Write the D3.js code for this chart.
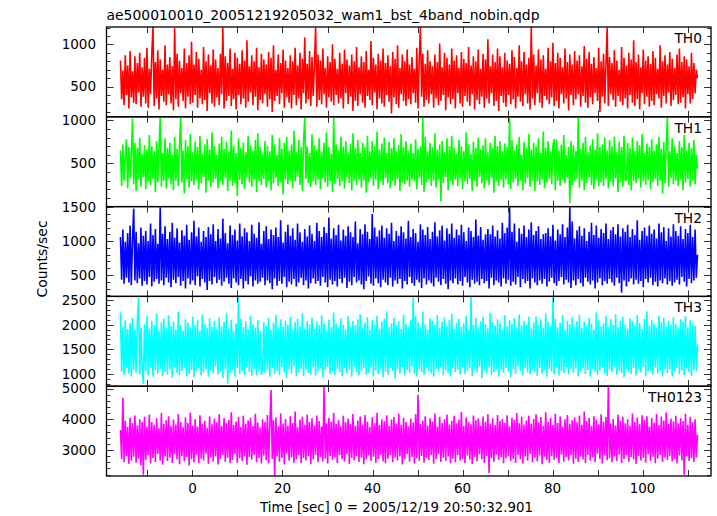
<!DOCTYPE html>
<html><head><meta charset="utf-8">
<script src="https://cdn.jsdelivr.net/npm/d3@7"></script>
<style>body{margin:0;background:#fff} svg{display:block}</style>
</head><body><svg id="c" width="717" height="516"></svg>
<script>
const titleText = "ae500010010_20051219205032_wam1_bst_4band_nobin.qdp";
const xLabel = "Time [sec] 0 = 2005/12/19 20:50:32.901";
const yLabel = "Counts/sec";
const tStart = -16.0, tEnd = 112.2;
const xDomain = [-19.1, 115.2];
const xTickValues = [-10,0,10,20,30,40,50,60,70,80,90,100,110];
const xTickLabels = [0,20,40,60,80,100];
const seriesNames = ["TH0","TH1","TH2","TH3","TH0123"];
const seriesColors = ["#ff0000","#00ff00","#0000ff","#00ffff","#ff00ff"];
const yDomains = [[142,1206],[0,1040],[184,1510],[750,2575],[2155,5075]];
const yMajorTicks = [[500,1000],[500,1000],[500,1000,1500],[1000,1500,2000,2500],[3000,4000,5000]];
const yMinorStep = [100,100,100,100,200];

const th0 = [
810,350,690,280,870,400,750,240,920,370,680,310,860,290,780,430,900,260,730,380,
840,300,960,250,710,410,880,1205,270,790,360,930,230,820,390,700,320,990,280,760,
410,850,300,740,220,1190,350,890,260,810,420,720,330,950,240,780,380,870,290,1030,
310,760,400,910,250,830,360,700,290,970,340,800,210,880,420,750,300,940,260,820,
370,720,280,890,410,1200,240,860,330,780,390,950,270,710,350,900,230,840,400,770,
290,930,360,810,250,1050,320,740,430,870,280,800,380,960,220,730,340,890,300,820,
410,760,260,910,350,840,200,990,330,700,390,880,290,780,420,940,250,810,370,720,
310,870,240,800,400,960,280,750,360,900,230,830,420,1080,300,770,350,920,270,850,
390,740,1200,260,880,340,810,290,950,410,720,250,860,370,790,320,1000,280,830,400,
710,300,900,360,770,240,940,420,820,290,750,380,880,210,800,330,970,270,730,410,
860,310,790,250,920,390,700,340,1040,280,840,430,760,230,890,360,810,300,950,260,
780,400,870,320,740,180,910,370,830,290,990,250,720,410,880,330,800,270,940,350,
760,290,850,420,710,310,960,240,820,1200,380,890,260,770,340,930,300,800,410,740,
250,880,360,790,280,1010,330,730,400,900,220,840,370,760,290,950,350,810,240,870,
420,720,300,910,260,830,390,780,320,970,270,750,410,860,230,800,340,940,290,710,
380,890,250,820,360,1060,300,740,420,880,270,790,330,950,210,860,390,730,310,900,
260,810,400,770,290,930,350,850,240,720,380,990,320,800,270,910,410,760,300,840,
230,1205,360,880,280,750,420,940,310,820,250,870,390,710,340,960,290,800,370,1020,
270,780,330,900,240,840,410,730,300,950,360,790,220,880,400,760,280,920,350,810,
410,870,260,740,390,980,310,830,250,910,370,770,290,850,420,720,330,960,200,800,
380,890,300,760,1200,270,850,410,780,340,930,260,810,390,700,320,970,280,840,360,
750,240,900,400,820,310,1050,270,790,350,880,230,730,420,940,290,810,380,860,260,
770,330,920,280,840,410,710,360,990,250,800,390,870,300,760,430,910,270,830,340,
720,400,880,290,950,310,790,370,860,240,820,410,740,300,900,350,780,420,700,600];

const th1 = [
650,240,720,300,590,780,210,690,330,620,1020,260,740,180,680,310,800,230,610,340,
710,200,660,290,830,250,700,320,640,170,760,280,690,1035,230,620,300,790,210,680,
330,740,260,600,190,810,300,670,240,720,1030,280,650,150,770,320,700,220,840,290,
630,250,750,310,690,200,820,270,610,340,720,160,780,300,660,230,860,280,700,320,
600,210,730,290,810,250,670,330,750,180,640,300,880,240,700,270,620,120,790,310,
680,260,740,200,630,340,820,280,710,230,650,310,770,170,850,290,690,250,610,320,
760,220,700,300,640,190,830,270,720,330,600,240,790,280,670,140,740,310,810,260,
650,300,720,210,880,290,630,340,770,250,690,180,760,1030,320,700,270,620,230,840,
290,710,250,660,310,790,200,640,330,740,280,860,230,690,300,610,170,1030,260,720,
320,650,240,810,290,700,210,760,340,630,270,730,190,850,300,680,250,770,310,620,
220,740,300,690,160,820,280,640,330,760,240,700,310,870,200,660,290,730,250,800,
330,620,270,750,210,680,300,790,240,640,320,710,180,840,280,690,260,760,300,650,
230,730,310,620,290,780,200,670,330,700,250,1030,170,810,280,640,320,740,240,690,
300,850,220,660,310,720,60,760,270,630,340,790,190,700,290,820,250,680,310,610,
240,770,330,700,200,640,290,860,260,720,320,610,180,750,300,680,230,800,340,660,
270,710,210,790,300,630,250,740,330,680,160,820,290,700,240,760,310,640,220,730,
310,690,260,1035,200,770,280,650,320,720,240,810,300,600,190,750,270,680,330,840,
230,660,300,740,180,700,290,790,250,620,310,870,210,680,280,760,320,640,260,710,
780,190,780,300,650,240,720,310,830,270,600,330,690,40,760,250,710,290,640,320,
1030,220,670,300,740,190,810,270,630,340,710,250,780,200,660,310,850,240,690,280,
720,240,800,320,650,210,770,290,700,240,810,330,630,170,750,280,690,230,820,300,
310,740,250,680,190,800,300,640,270,760,330,710,220,840,290,620,250,730,310,690,
200,780,280,650,320,720,240,810,300,670,150,750,270,700,1030,230,640,330,790,260,
700,300,620,240,760,310,690,190,830,280,650,320,740,230,680,300,770,260,600,440];

const th2 = [
1060,430,1170,370,990,460,1120,390,1230,350,1010,1480,420,1140,380,970,450,1200,340,1080,
410,1150,360,1000,470,1260,330,1090,400,1180,440,960,370,1500,420,1110,350,1220,460,1030,
390,1140,320,1270,430,1050,380,1190,470,980,340,1160,410,1080,300,1240,450,1020,360,1130,
420,1300,350,1070,480,1200,330,990,440,1150,390,1060,280,1210,410,1100,360,1250,470,1000,
380,1180,430,1040,340,1330,400,1120,460,970,370,1230,310,1090,450,1170,390,1010,350,1260,
440,1070,300,1190,410,1130,360,1000,480,1240,330,1110,420,1050,370,1280,400,960,460,1150,
350,1220,420,1030,380,1170,290,1090,450,1200,340,1060,410,1310,370,980,470,1140,320,1240,
400,1080,360,1190,440,1020,330,1260,390,1130,460,990,350,1180,420,1070,300,1230,380,1110,
450,1000,370,1270,410,1150,340,1060,470,1210,390,1120,320,1350,430,1040,360,1190,410,1090,
330,1240,440,1010,380,1170,460,1080,310,1220,400,1130,350,1060,470,1290,390,970,420,1180,
360,1100,290,1250,410,1140,480,1030,370,1400,340,1200,450,1070,380,1160,320,1230,430,1050,
390,1190,350,1110,460,1270,330,1000,420,1150,370,1080,440,1220,300,1130,410,1040,360,1300,
470,1060,380,1180,340,1120,430,990,390,1250,310,1170,450,1090,360,1210,420,1030,380,1140,
330,1280,460,1070,400,1160,350,1230,440,1010,370,1190,290,1110,420,1260,380,1050,450,1170,
360,1090,410,1240,340,1130,470,1000,390,1200,320,1150,430,1060,370,1320,400,1080,350,1210,
440,1020,380,1100,410,1180,300,1100,460,1230,350,1070,420,1160,390,1040,330,1270,450,1120,
370,1200,430,1500,340,1140,400,1260,360,990,470,1190,320,1110,440,1230,380,1060,410,1170,
300,1280,450,1090,390,1150,350,1220,420,1030,370,1100,440,1120,330,1190,400,1070,460,1240,
380,1010,340,1170,410,1100,470,1250,360,1060,430,1200,390,1500,310,1290,420,1040,350,1160,
440,1220,380,1080,330,1190,460,1000,400,1140,360,1270,420,1090,300,1230,390,1050,450,1180,
350,1120,410,1260,370,1030,440,1160,390,1210,340,1100,460,1250,380,1070,240,1190,420,1140,
330,1240,400,1060,450,1180,360,1090,430,1310,370,1020,410,1150,320,1200,440,1080,390,1230,
460,1110,350,1170,400,1040,330,1260,420,1130,380,1210,450,1000,360,1190,410,1070,340,1250,
390,1150,430,1080,360,1220,470,1030,400,1180,330,1120,440,1240,380,1060,420,1170,460,800];

const th3 = [
2250,1050,1960,980,2090,1120,1910,1010,2030,950,2140,1080,1890,1030,2060,2550,990,1940,1110,800,
2010,1060,2170,970,1920,1130,2080,940,1990,1070,2230,1010,1880,1100,2050,960,2120,1040,1930,990,
2190,1090,1970,920,2070,1140,1900,1020,2260,980,2000,1060,1870,1120,2110,950,2040,1000,1950,1080,
2160,930,1990,1050,2090,1110,1880,970,2210,1030,2020,1090,1930,940,2130,1070,1960,1010,2080,1150,
1900,990,2150,1040,1970,910,2060,1100,2240,800,1920,1020,2100,1080,1880,950,2030,1120,2550,1000,
2120,1060,1950,980,2070,1130,1910,1040,2180,960,2010,1090,1940,970,2090,1050,1870,980,1110,2050,
1020,1980,1070,2140,940,1900,1120,2040,1000,2200,1060,1930,980,2110,1140,1960,1030,2080,920,2000,
1090,2160,1010,1890,1150,2050,960,2120,1040,1970,1100,2230,950,1920,1080,2070,1020,2010,990,2140,
1130,1910,970,2060,1050,1990,1110,2190,930,2030,1070,1880,1140,2100,1000,1950,1060,2250,980,2020,
1100,1940,1030,2130,960,2000,1120,1900,1010,2170,1080,1960,940,2080,1150,1990,1040,2110,970,2210,
1060,1930,1110,2040,990,2150,1020,1890,1130,2090,950,2000,1070,2180,1000,1920,1090,2060,930,2120,
1040,2270,980,1950,1120,2030,1060,2140,900,1980,1100,2070,1010,1910,1140,2200,970,2020,1080,1960,
1030,2100,1150,2550,1000,2170,950,2050,1090,1940,1040,2260,980,2010,1120,1900,1060,2130,1010,2080,
940,2000,1100,2190,1050,1930,1130,2060,970,2150,1070,1970,1020,2090,950,2220,1110,1910,1040,2040,
1080,2120,990,1960,1140,2030,1000,2180,1060,1890,1120,2570,960,2000,1090,2140,1030,1950,1150,2070,
910,2160,1070,2010,1010,1920,1130,2240,980,2050,1040,1980,1100,2110,950,2030,1080,1900,1020,2190,
1120,1970,1050,2090,930,2020,1090,2130,1000,1940,1150,2200,1060,1990,970,2080,1110,2010,1030,2160,
990,1920,1080,2050,1040,2170,960,2000,1120,2110,1010,1930,1070,2230,940,2060,1100,1980,1050,2550,
1000,2120,1130,1950,970,2040,1060,2190,1020,1890,1140,2080,990,2010,1090,2150,1030,1960,1110,2070,
950,2200,1050,1930,1120,2060,1000,1980,1080,2140,940,2020,1100,1900,1040,2250,980,2090,1070,1970,
1130,2030,1010,2170,960,1950,1090,2110,1040,2000,1150,2210,990,1940,1060,2080,1020,2160,930,2010,
1100,1920,1040,2130,1000,2060,1120,1990,970,2190,1080,2040,1030,1910,1140,2120,960,2270,1050,1980,
1070,2090,990,2020,1130,1930,1010,2180,1060,2050,950,2140,1100,1960,1020,2080,1090,2000,940,2150,
1040,2010,1120,1940,1000,2110,1070,2060,980,2170,1110,1950,1030,2090,960,2030,1080,1980,1050,1600];

const th0123 = [
3650,2700,4700,2600,3950,2800,3750,2550,4050,2650,3880,2780,4120,2590,3800,2720,4000,2500,3920,2200,
4080,2680,3760,2830,4150,2560,3900,2740,3820,2610,4030,2870,3710,2650,4200,2520,3850,2790,3970,2640,
4100,2750,3780,2580,3990,2860,3830,2690,4170,2540,3910,2810,3740,2630,4060,2770,3880,2500,4220,2700,
3800,2600,4010,2850,3760,2570,4130,2720,3860,2660,3950,2880,3720,2550,4090,2760,3840,2620,4020,2790,
3900,2530,4160,2700,3790,2840,4040,2610,3870,2750,3980,2570,4230,2680,3810,2860,3930,2590,4070,2730,
3750,2640,4110,2800,3850,2520,3960,2770,4050,2690,3780,2850,4180,2600,3890,2740,3730,2560,4000,2820,
3920,2670,4140,2580,3830,4950,2710,3970,2160,4060,2790,3770,2620,4190,2740,3860,2530,4010,2880,3790,
2650,4100,2760,3880,2590,4250,2700,3740,2840,3990,2570,4080,2730,3820,2660,4150,2800,3910,2540,4030,
2690,3800,2850,4120,2600,3940,2770,3760,2630,5070,2720,3870,2560,4040,2810,3930,2680,4200,2750,3850,
2580,3980,2830,3770,2700,4110,2620,3900,2860,4020,2550,3840,2740,4170,2670,3790,2800,3960,2610,4090,
2760,3830,2540,4140,2690,3920,2820,3750,2640,4060,2780,3870,2590,4210,2710,3810,2850,4000,2630,3940,
2570,4130,2720,3780,2840,3990,2600,4070,2750,3860,2660,4180,2800,3820,2530,4050,2690,3910,2870,3770,
2620,4020,2770,3890,2560,4160,2730,4800,2650,3850,2810,3960,2590,4100,2740,3800,2680,4030,2830,3930,
2550,4190,2700,3760,2860,4080,2610,3880,2750,4000,2640,4150,2790,3830,2570,3950,2720,4110,2600,3870,
2840,3990,2660,4240,2710,3790,2580,4060,2820,3910,2690,3840,2550,4120,2770,3970,2630,4020,2860,3780,
2700,4090,2590,3920,2810,4170,2250,3860,2740,4030,2620,3810,2850,4140,2680,3940,2760,4010,2570,3880,
2730,4130,2800,3770,2640,4050,2710,3990,2580,4200,2830,3870,2690,4080,2560,3830,2790,3960,2650,4110,
2870,3850,2600,4010,2750,4160,2630,3900,2820,4070,2540,3790,2780,4230,2670,3920,2590,4040,2800,3810,
2680,4180,2740,3880,2570,4090,2850,3760,2620,4000,2770,4140,2660,3850,2830,3970,2550,4060,2720,3900,
2610,4120,2790,3820,2690,4250,2580,3940,2840,4040,2650,3780,2760,4100,2600,3990,2880,3830,2700,4160,
2560,3920,2820,4070,2670,5070,2730,3860,2600,4010,2790,3800,2640,4150,2850,3950,2580,4080,2710,3870,
2830,4000,2620,3790,2770,4190,2690,3910,2550,4060,2810,3840,2660,4130,2740,3980,2590,4100,2860,3760,
2650,4040,2780,3890,2570,4170,2720,3810,2840,4090,2610,3960,2750,4220,2680,3850,2800,4020,2630,3930,
2700,4110,2560,3870,2820,4030,2660,3940,2200,4180,2790,3820,2640,4080,2730,3900,2610,4000,2760,3500];

const seriesValues = [th0, th1, th2, th3, th0123];

const svg = d3.select("#c");
const FONT = "'DejaVu Sans', sans-serif";
const L = 106.5, R = 711, TOP = 27, BOTTOM = 476;
const panelH = (BOTTOM - TOP) / seriesValues.length;

const x = d3.scaleLinear().domain(xDomain).range([L, R]);

svg.append("text").attr("x", L).attr("y", 20).attr("font-family", FONT)
  .attr("font-size", 13.5).attr("textLength", 433).attr("lengthAdjust","spacingAndGlyphs")
  .text(titleText);

const defs = svg.append("defs");

seriesValues.forEach((vals, i) => {
  const top = TOP + i * panelH, bot = top + panelH;
  const y = d3.scaleLinear().domain(yDomains[i]).range([bot, top]);
  const tScale = d3.scaleLinear().domain([0, vals.length - 1]).range([tStart, tEnd]);
  defs.append("clipPath").attr("id", "clip" + i).append("rect")
    .attr("x", L).attr("y", top).attr("width", R - L).attr("height", panelH);
  const g = svg.append("g");
  g.append("path").datum(vals)
    .attr("clip-path", `url(#clip${i})`)
    .attr("fill", "none").attr("stroke", seriesColors[i]).attr("stroke-width", 1.6)
    .attr("stroke-linejoin", "bevel")
    .attr("d", d3.line().x((d, j) => x(tScale(j))).y(d => y(d)));

  const minor = d3.range(Math.ceil(yDomains[i][0] / yMinorStep[i]) * yMinorStep[i], yDomains[i][1] + 1, yMinorStep[i]);
  minor.forEach(v => {
    const major = yMajorTicks[i].includes(v);
    const len = major ? 7 : 4;
    const yy = Math.round(y(v)) + 0.5;
    g.append("line").attr("x1", L).attr("x2", L + len).attr("y1", yy).attr("y2", yy)
      .attr("stroke", "#333").attr("stroke-width", 1);
    g.append("line").attr("x1", R).attr("x2", R - len).attr("y1", yy).attr("y2", yy)
      .attr("stroke", "#333").attr("stroke-width", 1);
  });
  yMajorTicks[i].forEach(v => {
    g.append("text").attr("x", 96).attr("y", y(v)).attr("dy", "0.36em")
      .attr("text-anchor", "end").attr("font-family", FONT).attr("font-size", 13.5)
      .text(v);
  });
  xTickValues.forEach(v => {
    const xx = Math.round(x(v)) + 0.5;
    g.append("line").attr("x1", xx).attr("x2", xx).attr("y1", top).attr("y2", top + 6)
      .attr("stroke", "#333").attr("stroke-width", 1);
    g.append("line").attr("x1", xx).attr("x2", xx).attr("y1", bot).attr("y2", bot - 6)
      .attr("stroke", "#333").attr("stroke-width", 1);
  });
  g.append("rect").attr("x", L).attr("y", top).attr("width", R - L).attr("height", panelH)
    .attr("fill", "none").attr("stroke", "#000").attr("stroke-width", 1.3);
  g.append("text").attr("x", 702).attr("y", top + 16).attr("text-anchor", "end")
    .attr("font-family", FONT).attr("font-size", 13.8).text(seriesNames[i]);
});

xTickLabels.forEach(v => {
  svg.append("text").attr("x", x(v)).attr("y", 493).attr("text-anchor", "middle")
    .attr("font-family", FONT).attr("font-size", 13.5).text(v);
});

svg.append("text").attr("x", 260).attr("y", 512).attr("font-family", FONT)
  .attr("font-size", 13.5).attr("textLength", 273).attr("lengthAdjust", "spacingAndGlyphs")
  .text(xLabel);

svg.append("text").attr("transform", "translate(47,259) rotate(-90)")
  .attr("text-anchor", "middle").attr("font-family", FONT).attr("font-size", 14)
  .text(yLabel);
</script>
</body></html>
